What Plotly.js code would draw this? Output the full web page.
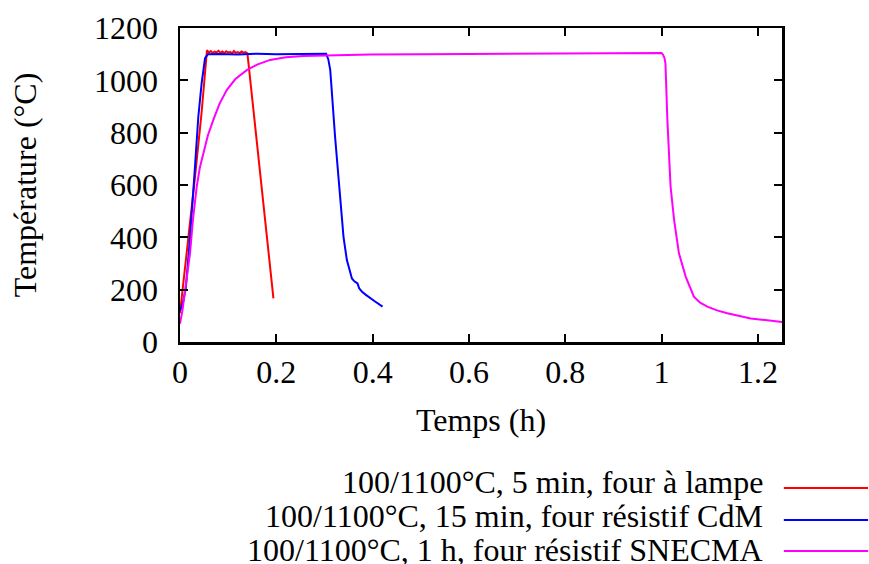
<!DOCTYPE html>
<html>
<head>
<meta charset="utf-8">
<script src="https://cdn.plot.ly/plotly-3.0.1.min.js"></script>
<style>html,body{margin:0;padding:0;background:#fff;}#chart{width:869px;height:564px;}</style>
</head>
<body>
<div id="chart"></div>
<script>
// Series: 100/1100°C, 5 min, four à lampe
const lampT = [0, 0.005, 0.015, 0.03, 0.045, 0.053, 0.056, 0.060, 0.064, 0.068, 0.072, 0.076, 0.080, 0.084, 0.088, 0.092, 0.096, 0.100, 0.104, 0.108, 0.112, 0.116, 0.120, 0.124, 0.128, 0.132, 0.136, 0.140, 0.194];
const lampV = [110, 190, 350, 610, 880, 1040, 1115, 1106, 1112, 1104, 1110, 1107, 1113, 1105, 1110, 1104, 1111, 1106, 1109, 1103, 1112, 1105, 1108, 1104, 1110, 1106, 1108, 1103, 167];

// Series: 100/1100°C, 15 min, four résistif CdM
const cdmT = [0, 0.006, 0.012, 0.02, 0.03, 0.038, 0.045, 0.052, 0.058, 0.08, 0.12, 0.16, 0.2, 0.24, 0.28, 0.3035, 0.308, 0.312, 0.322, 0.333, 0.3395, 0.3465, 0.352, 0.357, 0.362, 0.3686, 0.372, 0.378, 0.386, 0.395, 0.405, 0.4206];
const cdmV = [120, 150, 205, 380, 640, 860, 990, 1085, 1100, 1101, 1099, 1102, 1100, 1101, 1100, 1102, 1080, 1039, 784, 530, 402, 313, 270, 243, 232, 224, 205, 192, 180, 167, 155, 135];

// Series: 100/1100°C, 1 h, four résistif SNECMA
const snecmaT = [0, 0.005, 0.01, 0.015, 0.0208, 0.027, 0.0347, 0.041, 0.0485, 0.058, 0.069, 0.082, 0.097, 0.115, 0.1386, 0.16, 0.187, 0.22, 0.256, 0.32, 0.395, 0.6, 0.872, 1.0, 1.003, 1.006, 1.008, 1.012, 1.0187, 1.026, 1.036, 1.05, 1.067, 1.08, 1.095, 1.115, 1.1365, 1.16, 1.185, 1.215, 1.25];
const snecmaV = [70, 120, 190, 265, 339, 470, 593, 665, 721, 790, 848, 910, 963, 1005, 1039, 1060, 1078, 1088, 1093, 1097, 1099, 1101, 1103, 1104, 1098, 1085, 1065, 848, 593, 466, 339, 250, 173, 150, 135, 121, 110, 100, 90, 84, 76];

const seriesNames = ["100/1100°C, 5 min, four à lampe", "100/1100°C, 15 min, four résistif CdM", "100/1100°C, 1 h, four résistif SNECMA"];
const seriesColors = ["#ff0000", "#0000ff", "#ff00ff"];

const xTicks = [0, 0.2, 0.4, 0.6, 0.8, 1, 1.2];
const xTickLabels = ["0", "0.2", "0.4", "0.6", "0.8", "1", "1.2"];
const yTicks = [0, 200, 400, 600, 800, 1000, 1200];

const font = "'Liberation Serif', 'Times New Roman', serif";
const fsize = 32;

const xs = [lampT, cdmT, snecmaT];
const ys = [lampV, cdmV, snecmaV];
const traces = xs.map((x, i) => ({
  x: x, y: ys[i], type: "scatter", mode: "lines", name: seriesNames[i],
  line: {color: seriesColors[i], width: 2}, showlegend: false
}));

const legendRowsY = [-0.445, -0.553, -0.662];
const annotations = seriesNames.map((n, i) => ({
  text: n, xref: "paper", yref: "paper", x: 0.972, y: legendRowsY[i],
  xanchor: "right", yanchor: "middle", showarrow: false,
  font: {family: font, size: fsize, color: "#000"}
}));
const lineRowsY = [-0.465, -0.567, -0.666];
const shapes = seriesNames.map((n, i) => ({
  type: "line", xref: "paper", yref: "paper", x0: 1.003, x1: 1.143,
  y0: lineRowsY[i], y1: lineRowsY[i],
  line: {color: seriesColors[i], width: 2}
}));

const layout = {
  width: 869, height: 564,
  margin: {l: 180, r: 87, t: 28, b: 222},
  paper_bgcolor: "#fff", plot_bgcolor: "#fff",
  font: {family: font, size: fsize, color: "#000"},
  showlegend: false,
  xaxis: {
    range: [0, 1.25], tickvals: xTicks, ticktext: xTickLabels,
    ticks: "inside", ticklen: 8, tickwidth: 2, tickcolor: "#000",
    showline: true, linewidth: 2.5, linecolor: "#000", mirror: "allticks",
    showgrid: false, zeroline: false, ticklabelstandoff: 0,
    title: {text: "Temps (h)", font: {family: font, size: fsize}, standoff: 20},
    automargin: false
  },
  yaxis: {
    range: [0, 1200], tickvals: yTicks,
    ticks: "inside", ticklen: 8, tickwidth: 2, tickcolor: "#000",
    showline: true, linewidth: 2.5, linecolor: "#000", mirror: "allticks",
    showgrid: false, zeroline: false, ticklabelstandoff: 13,
    title: {text: "Température (°C)", font: {family: font, size: fsize}, standoff: 48},
    automargin: false
  },
  annotations: annotations,
  shapes: shapes
};

Plotly.newPlot("chart", traces, layout, {displayModeBar: false, staticPlot: true});
</script>
</body>
</html>
